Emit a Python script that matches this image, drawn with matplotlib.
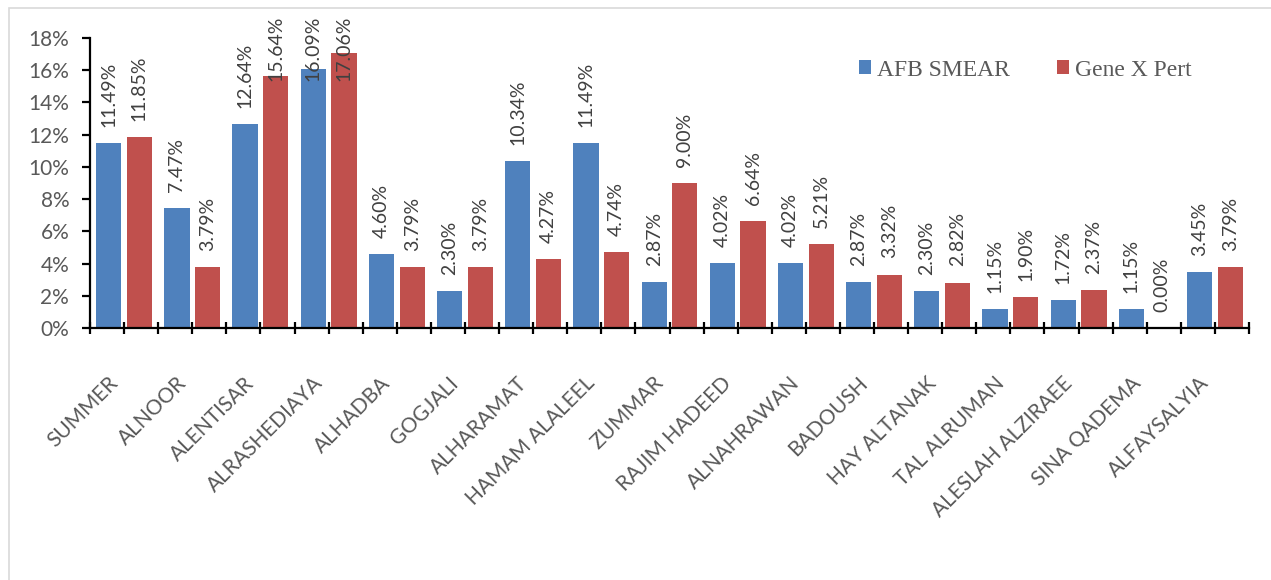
import matplotlib
matplotlib.use("Agg")
import matplotlib.pyplot as plt
import numpy as np
from matplotlib.patches import Patch, Rectangle
from matplotlib.ticker import FixedLocator

# ---- data ----
sites = ["SUMMER", "ALNOOR", "ALENTISAR", "ALRASHEDIAYA", "ALHADBA", "GOGJALI",
         "ALHARAMAT", "HAMAM ALALEEL", "ZUMMAR", "RAJIM HADEED", "ALNAHRAWAN",
         "BADOUSH", "HAY ALTANAK", "TAL ALRUMAN", "ALESLAH ALZIRAEE",
         "SINA QADEMA", "ALFAYSALYIA"]
afb_smear = [11.49, 7.47, 12.64, 16.09, 4.60, 2.30, 10.34, 11.49, 2.87, 4.02,
             4.02, 2.87, 2.30, 1.15, 1.72, 1.15, 3.45]
gene_xpert = [11.85, 3.79, 15.64, 17.06, 3.79, 3.79, 4.27, 4.74, 9.00, 6.64,
              5.21, 3.32, 2.82, 1.90, 2.37, 0.00, 3.79]
series_names = ["AFB SMEAR", "Gene X Pert"]

C_BLUE = "#4F81BD"
C_RED = "#C0504D"
C_TXT = "#595959"
C_LBL = "#404040"
SANS = ["Lato", "DejaVu Sans"]

W, H = 1271, 580
fig = plt.figure(figsize=(W / 100, H / 100), dpi=100)
fig.patch.set_facecolor("white")

# light grey chart border
fig.add_artist(Rectangle((9 / W, -0.05), 1.1, 1 - 8 / H + 0.05,
                         transform=fig.transFigure, fill=False,
                         edgecolor="#D9D9D9", lw=1.2))

ax = fig.add_axes([90 / W, 1 - 328 / H, (1249 - 90) / W, 290 / H])

x = np.arange(len(sites))
bw = 0.37
off = 0.225
ax.bar(x - off, afb_smear, bw, color=C_BLUE, zorder=2)
ax.bar(x + off, gene_xpert, bw, color=C_RED, zorder=2)

ax.set_xlim(-0.5, len(sites) - 0.5)
ax.set_ylim(0, 18)

# data labels (rotated); pushed down when they would leave chart area
top_limit = 19.4
for xs, vals in ((x - off, afb_smear), (x + off, gene_xpert)):
    for xi, v in zip(xs, vals):
        s = f"{v:.2f}%"
        need = 1.0 + 0.62 * len(s)
        if v + need > top_limit:
            ax.text(xi, top_limit, s, rotation=90, ha="center", va="top",
                    fontsize=14, color=C_LBL, family=SANS, clip_on=False)
        else:
            ax.text(xi, v + 1.0, s, rotation=90, ha="center", va="bottom",
                    fontsize=14, color=C_LBL, family=SANS, clip_on=False)

# axes styling
for side in ("top", "right"):
    ax.spines[side].set_visible(False)
for side in ("left", "bottom"):
    ax.spines[side].set_linewidth(1.6)
    ax.spines[side].set_color("black")

ax.set_yticks(np.arange(0, 19, 2))
ax.set_yticklabels([f"{t}%" for t in range(0, 19, 2)], fontsize=15,
                   color=C_TXT, family=SANS)
ax.tick_params(axis="y", direction="out", length=6, width=1.6, pad=9)

ax.xaxis.set_major_locator(FixedLocator(np.arange(-0.5, len(sites), 1)))
ax.xaxis.set_minor_locator(FixedLocator(x))
ax.tick_params(axis="x", which="both", direction="inout", length=9,
               width=1.6, labelbottom=False)

# category labels at 45 degrees
for xi, name in zip(x, sites):
    ax.text(xi - 0.24, -0.155, name, transform=ax.get_xaxis_transform(),
            rotation=45, rotation_mode="anchor", ha="right", va="top",
            fontsize=15, color=C_TXT, family=SANS)

handles = [Patch(facecolor=C_BLUE), Patch(facecolor=C_RED)]
leg = fig.legend(handles, series_names, loc="center left",
                 bbox_to_anchor=(859 / W, 1 - 70 / H), ncol=2, frameon=False,
                 prop={"family": "Liberation Serif", "size": 17},
                 handlelength=0.5, handleheight=0.5, handletextpad=0.25,
                 columnspacing=2.0, borderpad=0, borderaxespad=0)
for t in leg.get_texts():
    t.set_color(C_TXT)

fig.savefig("out.png", dpi=100, facecolor="white")
